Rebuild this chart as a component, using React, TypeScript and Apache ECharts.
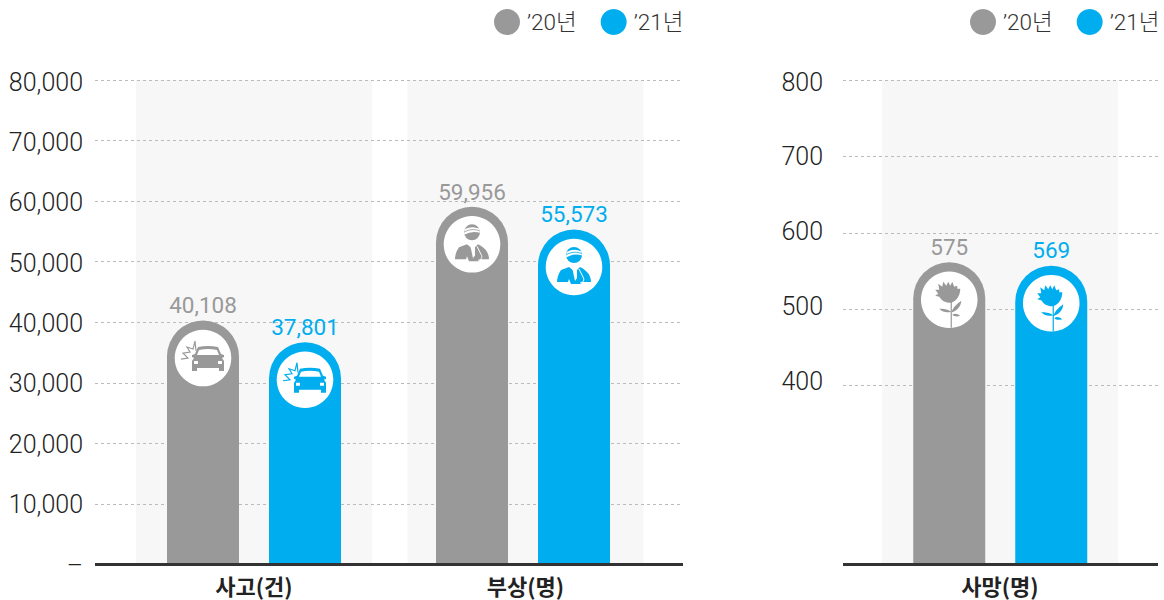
import React, { useEffect, useRef } from "react";
import * as echarts from "echarts";

const seriesNames = ["’20년", "’21년"];
const colors = ["#999999", "#00aeef"];

const leftCategories = ["사고(건)", "부상(명)"];
const leftTicks = [0, 10000, 20000, 30000, 40000, 50000, 60000, 70000, 80000];
const leftLabels20 = ["40,108", "59,956"];
const leftLabels21 = ["37,801", "55,573"];
// Bar heights as drawn in the picture, read against the axis
const leftHeights20 = [40280, 59060];
const leftHeights21 = [36700, 55320];
const leftBand = [80000, 80000];

const rightCategories = ["사망(명)"];
const rightTicks = [400, 500, 600, 700, 800];
const rightLabels20 = ["575"];
const rightLabels21 = ["569"];
const rightHeights20 = [561.5];
const rightHeights21 = [557];
const rightBand = [800];

const FONT = "Roboto, 'Noto Sans CJK KR', sans-serif";
const KFONT = "'Noto Sans CJK KR', Roboto, sans-serif";

const carBody =
  "M-5,-11 Q5,-13 15,-11 L18,-4 L21,-3 L21,-1 L19,0 L21,3 L21,13 L16,13 L16,10 L-6,10 L-6,13 L-11,13 L-11,3 L-9,0 L-11,-1 L-11,-3 L-8,-4 Z";
const carWindow = "M-4,-8 Q5,-10 14,-8 L16,-3 L-6,-3 Z";
const carLights = "M-9,3 L-5,3 L-5,6 L-9,6 Z M15,3 L19,3 L19,6 L15,6 Z";
const carBurst = "M-22,1 L-15,0 L-20,-5 L-13,-6 L-16,-11 L-10,-9 L-8,-17 L-7,-7";
const headPath = "M-8,-12 A8,8 0 1 1 8,-12 A8,8 0 1 1 -8,-12 Z";
const bandagePath = "M-7.4,-15 Q0,-19 7.4,-15.5 L7.9,-11.5 Q0,-14 -7.9,-9.5 Z";
const bandageStripe = "M-7.5,-12.5 Q0,-16.5 7.6,-13.5";
const bodyPath =
  "M-5,0 L-13,3 C-16,7 -17,12 -17,15 L-6,15 L-5,12 L-3,17 L7,17 L8,15 L17,15 C17,9 14,4 6,0 L1,5 Z";
const tiePath = "M-2,0 L3,1 L3,11 L1,14 Z";
const slingPath = "M5,2 L9,10 C11,13 9,16 6,16";
const flowerHead =
  "M-1,3 C-6,2 -8,0 -10,-3 L-14,-4 L-11,-6 L-14,-10 L-10,-10 L-11,-16 L-7,-13 L-6,-18 L-3,-14 L-1,-18 L1,-14 L3,-18 L5,-13 L8,-14 L8,-11 L11,-11 C11,-5 8,1 2,3 Z";
const flowerStem = "M1.4,2 L2.6,2 L2.6,28 L1.4,28 Z";
const flowerLeaves =
  "M2,13 C4,7 8,4 12,1 C12,6 8,11 2,13 Z M2,12 C-2,9 -6,9 -10,9 C-6,13 -2,13 2,12 Z M3,15 C6,13 8,14 11,16 C8,17 5,17 3,15 Z";

function iconChildren(kind: string, color: string) {
  const fill = (d: string, c = color) => ({ type: "path", shape: { pathData: d }, style: { fill: c } });
  const line = (d: string, c = color, w = 1.2) => ({
    type: "path",
    shape: { pathData: d },
    style: { fill: "none", stroke: c, lineWidth: w },
  });
  if (kind === "car") {
    return [fill(carBody), fill(carWindow, "#ffffff"), fill(carLights, "#ffffff"), line(carBurst)];
  }
  if (kind === "person") {
    return [
      fill(headPath),
      fill(bandagePath, "#ffffff"),
      line(bandageStripe, color, 0.8),
      fill(bodyPath),
      fill(tiePath, "#ffffff"),
      line(slingPath, "#ffffff", 1),
    ];
  }
  return [fill(flowerHead), fill(flowerStem), fill(flowerLeaves)];
}

function iconSeries(kinds: string[], heights: number[], seriesIdx: number, axisIdx: number) {
  const sign = seriesIdx === 0 ? -1 : 1;
  return {
    type: "custom",
    silent: true,
    z: 3,
    xAxisIndex: axisIdx,
    yAxisIndex: axisIdx,
    data: heights.map((v, i) => [i, v]),
    renderItem: (params: any, api: any) => {
      const p = api.coord([api.value(0), api.value(1)]);
      return {
        type: "group",
        x: p[0] + sign * 51,
        y: p[1] + 37.5,
        children: [
          { type: "circle", shape: { cx: 0, cy: 0, r: 28.3 }, style: { fill: "#ffffff" } },
          ...iconChildren(kinds[params.dataIndex], colors[seriesIdx]),
        ],
      };
    },
  };
}

function barSeries(heights: number[], labels: string[], seriesIdx: number, axisIdx: number) {
  return {
    type: "bar",
    name: seriesNames[seriesIdx],
    xAxisIndex: axisIdx,
    yAxisIndex: axisIdx,
    z: 2,
    barWidth: 72,
    barGap: "41.67%",
    data: heights,
    itemStyle: { color: colors[seriesIdx], borderRadius: [36, 36, 0, 0] },
    label: {
      show: true,
      position: "top",
      distance: 4,
      fontFamily: FONT,
      fontSize: 22.5,
      color: colors[seriesIdx],
      formatter: (p: any) => labels[p.dataIndex],
    },
  };
}

function bandSeries(values: number[], axisIdx: number) {
  return {
    type: "bar",
    silent: true,
    xAxisIndex: axisIdx,
    yAxisIndex: axisIdx,
    z: 0,
    barWidth: 236,
    data: values,
    itemStyle: { color: "#f7f7f7" },
  };
}

const hiddenX = (gridIndex: number, data: string[]) => ({ type: "category", gridIndex, data, show: false });
const hiddenY = (gridIndex: number, min: number, max: number) => ({ type: "value", gridIndex, min, max, show: false });

const legendOf = (left: number) => ({
  left,
  top: 9,
  padding: 0,
  icon: "circle",
  itemWidth: 26,
  itemHeight: 26,
  itemGap: 24,
  selectedMode: false,
  data: seriesNames,
  textStyle: { fontFamily: FONT, fontSize: 22.5, fontWeight: 300, color: "#333333", padding: [2, 0, 0, 2] },
});

const mainX = (gridIndex: number, data: string[]) => ({
  type: "category",
  gridIndex,
  data,
  z: 4,
  axisLine: { show: true, lineStyle: { color: "#333333", width: 3, cap: "butt" } },
  axisTick: { show: false },
  axisLabel: { show: false },
});

const catX = (gridIndex: number, data: string[]) => ({
  type: "category",
  gridIndex,
  data,
  axisLine: { show: false },
  axisTick: { show: false },
  axisLabel: { show: true, margin: 9, fontFamily: KFONT, fontSize: 22, fontWeight: 700, color: "#222222" },
});

const splitLine = {
  show: true,
  lineStyle: { color: "#bbbbbb", type: [3, 3] as number[], width: 1 },
};

const tickLabelStyle = {
  fontFamily: FONT,
  fontSize: 25,
  fontWeight: 300,
  color: "#222222",
};

const linesOnlyY = (gridIndex: number, min: number, max: number, ticks: number[], interval?: number) => ({
  type: "value",
  gridIndex,
  min,
  max,
  ...(interval ? { interval } : {}),
  z: 1,
  axisLine: { show: false },
  axisTick: { show: false, customValues: ticks },
  splitLine,
  axisLabel: { show: false, customValues: ticks },
});

const labelsOnlyY = (gridIndex: number, ticks: number[], interval: number, margin: number, formatter?: any) => ({
  type: "value",
  gridIndex,
  min: ticks[0],
  max: ticks[ticks.length - 1],
  interval,
  axisLine: { show: false },
  axisTick: { show: false },
  splitLine: { show: false },
  axisLabel: { ...tickLabelStyle, margin, ...(formatter ? { formatter } : {}) },
});

const option: any = {
  animation: false,
  backgroundColor: "#ffffff",
  legend: [legendOf(494), legendOf(970)],
  grid: [
    { left: 95, top: 80, width: 588, height: 484.5 },
    { left: 118.25, top: 80, width: 543, height: 484.5 },
    { left: 119.5, top: 80, width: 538, height: 484.5 },
    { left: 843, top: 80, width: 315, height: 484.5 },
    { left: 882, top: 80, width: 236, height: 484.5 },
    { left: 882, top: 80, width: 236.5, height: 484.5 },
    // tick labels sit slightly off their gridlines in the reference
    { left: 843, top: 82, width: 315, height: 299 },
    { left: 95, top: 82, width: 588, height: 483 },
  ],
  xAxis: [
    mainX(0, leftCategories),
    catX(1, leftCategories),
    hiddenX(2, leftCategories),
    mainX(3, rightCategories),
    catX(4, rightCategories),
    hiddenX(5, rightCategories),
    hiddenX(6, rightCategories),
    hiddenX(7, leftCategories),
  ],
  yAxis: [
    linesOnlyY(0, leftTicks[0], leftTicks[leftTicks.length - 1], leftTicks, 10000),
    hiddenY(1, 0, 80000),
    hiddenY(2, 0, 80000),
    linesOnlyY(3, 166, 800, rightTicks),
    hiddenY(4, 166, 800),
    hiddenY(5, 166, 800),
    labelsOnlyY(6, rightTicks, 100, 20),
    labelsOnlyY(7, leftTicks, 10000, 12, (v: number) => (v === 0 ? "–" : v.toLocaleString("en-US"))),
  ],
  series: [
    bandSeries(leftBand, 1),
    barSeries(leftHeights20, leftLabels20, 0, 2),
    barSeries(leftHeights21, leftLabels21, 1, 2),
    iconSeries(["car", "person"], leftHeights20, 0, 2),
    iconSeries(["car", "person"], leftHeights21, 1, 2),
    bandSeries(rightBand, 4),
    barSeries(rightHeights20, rightLabels20, 0, 5),
    barSeries(rightHeights21, rightLabels21, 1, 5),
    iconSeries(["flower"], rightHeights20, 0, 5),
    iconSeries(["flower"], rightHeights21, 1, 5),
  ],
};

export default function App() {
  const ref = useRef<HTMLDivElement>(null);
  useEffect(() => {
    document.body.style.margin = "0";
    const chart = echarts.init(ref.current!, undefined, { renderer: "svg" });
    chart.setOption(option);
    return () => chart.dispose();
  }, []);
  return <div ref={ref} style={{ width: 1164, height: 600 }} />;
}
